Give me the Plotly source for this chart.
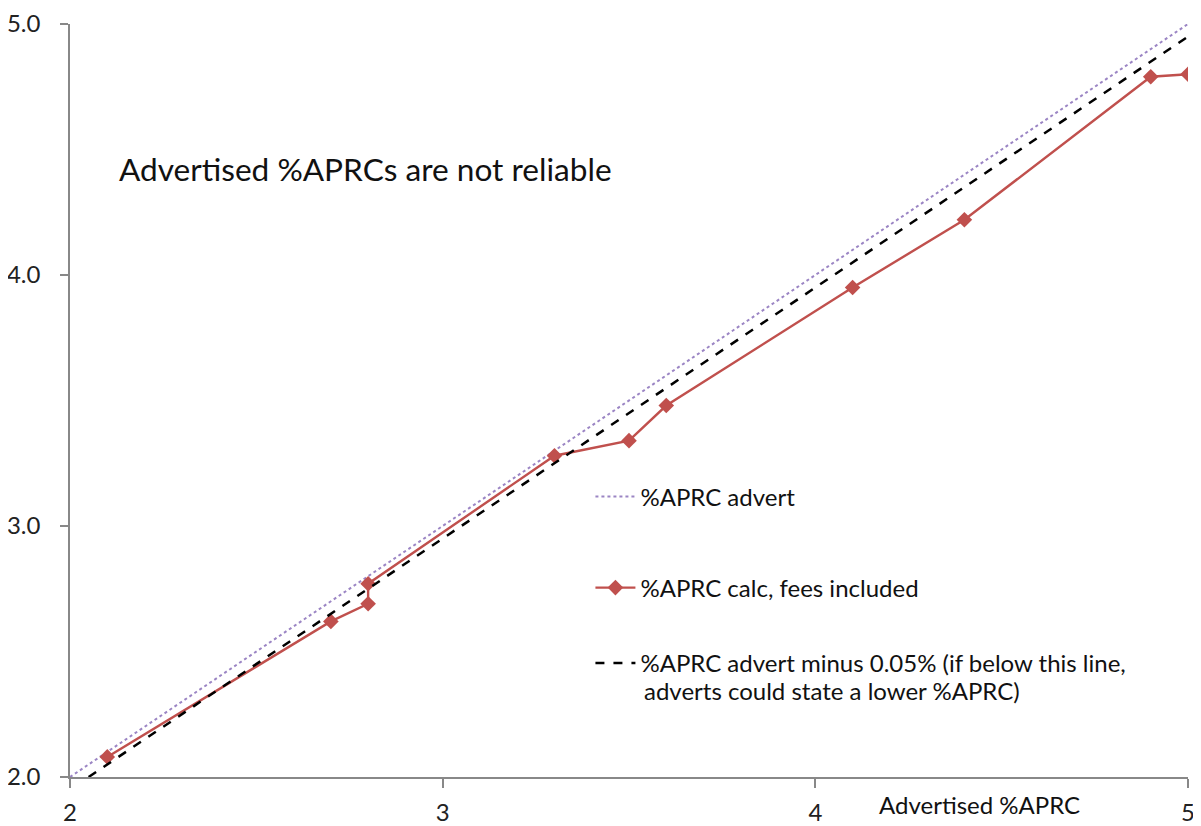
import plotly.graph_objects as go

# Data
advert_x = [2, 5]
advert_y = [2, 5]
minus_x = [2.05, 5]
minus_y = [2.0, 4.95]
calc_x = [2.1, 2.7, 2.8, 2.8, 3.3, 3.5, 3.6, 4.1, 4.4, 4.9, 5.0]
calc_y = [2.08, 2.62, 2.69, 2.77, 3.28, 3.34, 3.48, 3.95, 4.22, 4.79, 4.80]
x_ticks = [2, 3, 4, 5]
y_ticks = [2.0, 3.0, 4.0, 5.0]

FONT = "Lato, 'Open Sans', sans-serif"

fig = go.Figure()
fig.add_trace(go.Scatter(x=advert_x, y=advert_y, mode="lines", name="%APRC advert",
                         legend="legend",
                         line=dict(color="#9B85C4", width=2, dash="dot")))
fig.add_trace(go.Scatter(x=calc_x, y=calc_y, mode="lines+markers", name="%APRC calc, fees included",
                         legend="legend2",
                         line=dict(color="#C0504D", width=2.4),
                         marker=dict(symbol="diamond", size=12, color="#C0504D")))
fig.add_trace(go.Scatter(x=minus_x, y=minus_y, mode="lines",
                         name="%APRC advert minus 0.05% (if below this line,",
                         legend="legend3",
                         line=dict(color="#000000", width=2.5, dash="dash")))

leg_common = dict(x=0.4655, xanchor="left", yanchor="middle", bgcolor="rgba(0,0,0,0)",
                  font=dict(size=24, color="#111"), itemwidth=40)

fig.update_layout(
    width=1201, height=826,
    margin=dict(l=62, r=21, t=16, b=57),
    paper_bgcolor="white", plot_bgcolor="white",
    font=dict(family=FONT, size=24, color="#222"),
    showlegend=True,
    legend=dict(y=0.372, **leg_common),
    legend2=dict(y=0.251, **leg_common),
    legend3=dict(y=0.151, **leg_common),
    xaxis=dict(range=[2, 5], tickvals=x_ticks, ticktext=[str(v) for v in x_ticks],
               showgrid=False, zeroline=False, showline=True, linecolor="#888", linewidth=1.5,
               ticks="outside", ticklen=9, tickcolor="#888", tickwidth=1.5, automargin=False,
               ticklabelstandoff=4,
               tickfont=dict(size=24, color="#222")),
    yaxis=dict(range=[2, 5], tickvals=y_ticks, ticktext=[f"{v:.1f}" for v in y_ticks],
               showgrid=False, zeroline=False, showline=True, linecolor="#888", linewidth=1.5,
               ticks="outside", ticklen=8, tickcolor="#888", tickwidth=1.5, automargin=False,
               ticklabelstandoff=15,
               tickfont=dict(size=24, color="#222")),
    annotations=[
        dict(text="Advertised %APRCs are not reliable", xref="paper", yref="paper",
             x=0.042, y=0.808, xanchor="left", yanchor="middle", showarrow=False,
             font=dict(size=31.6, color="#111")),
        dict(text="adverts could state a lower %APRC)", xref="paper", yref="paper",
             x=0.5116, y=0.1155, xanchor="left", yanchor="middle", showarrow=False,
             font=dict(size=24, color="#111")),
        dict(text="Advertised %APRC", xref="x", yref="paper",
             x=4.44, y=-0.037, xanchor="center", yanchor="middle", showarrow=False,
             font=dict(size=24, color="#111")),
    ],
)

fig.write_html("out.html")
